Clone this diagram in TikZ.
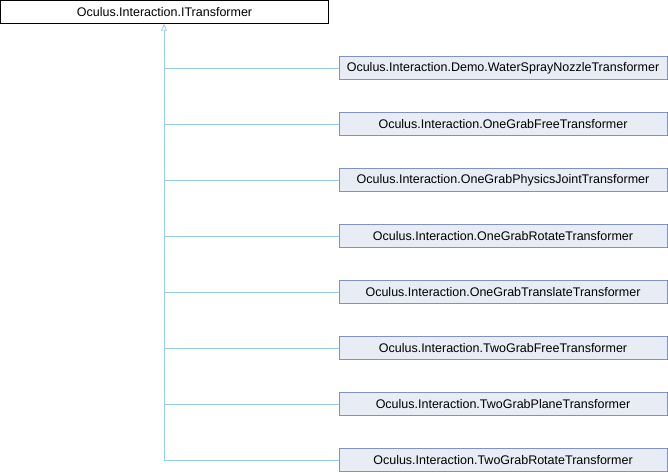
\documentclass[tikz,border=0pt]{standalone}
\usepackage{fontspec}
\setmainfont{Liberation Sans}
\usetikzlibrary{arrows.meta}
\definecolor{edgeblue}{HTML}{9ACDEB}
\definecolor{boxfill}{HTML}{E8ECF5}
\definecolor{boxdraw}{HTML}{7E92C8}
\begin{document}
\begin{tikzpicture}[x=1pt,y=-1pt,
  topbox/.style={draw=black,fill=white,minimum width=328pt,minimum height=23pt,inner sep=0pt,font=\fontsize{12.5}{14}\selectfont},
  childbox/.style={draw=boxdraw,fill=boxfill,minimum width=328pt,minimum height=23pt,inner sep=0pt,font=\fontsize{12.5}{14}\selectfont},
  inherit/.style={draw=edgeblue,line width=0.8pt}]
\useasboundingbox (0,0) rectangle (668,472);
\node[topbox] (base) at (164.5,12) {Oculus.Interaction.ITransformer};
\node[childbox] (c1) at (503,68) {Oculus.Interaction.Demo.WaterSprayNozzleTransformer};
\node[childbox] (c2) at (503,124) {Oculus.Interaction.OneGrabFreeTransformer};
\node[childbox] (c3) at (503,180) {Oculus.Interaction.OneGrabPhysicsJointTransformer};
\node[childbox] (c4) at (503,236) {Oculus.Interaction.OneGrabRotateTransformer};
\node[childbox] (c5) at (503,292) {Oculus.Interaction.OneGrabTranslateTransformer};
\node[childbox] (c6) at (503,348) {Oculus.Interaction.TwoGrabFreeTransformer};
\node[childbox] (c7) at (503,404) {Oculus.Interaction.TwoGrabPlaneTransformer};
\node[childbox] (c8) at (503,460) {Oculus.Interaction.TwoGrabRotateTransformer};
\coordinate (trunk) at (164,460);
\draw[inherit,-{Triangle[open,length=7pt,width=6pt]}] (trunk) -- (base.south -| trunk);
\foreach \i in {1,...,8} {
  \draw[inherit] (c\i.west) -- (c\i.west -| trunk);
}
\end{tikzpicture}
\end{document}
